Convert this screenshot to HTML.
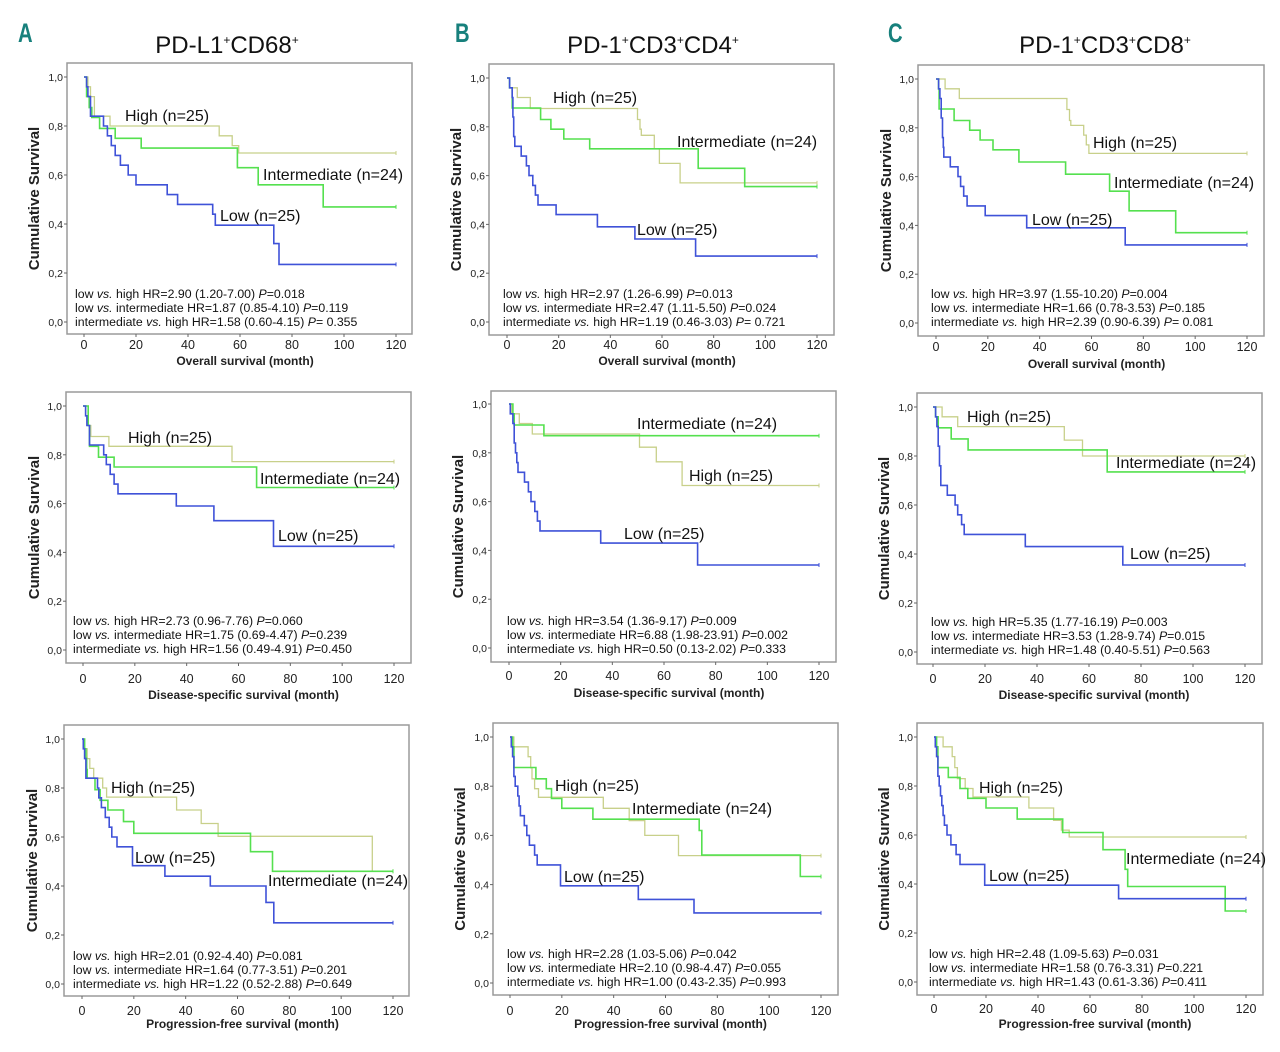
<!DOCTYPE html>
<html><head><meta charset="utf-8"><style>
html,body{margin:0;padding:0;background:#fff;}
svg{display:block;}
text{font-family:"Liberation Sans",Arial,sans-serif;}
</style></head><body>
<svg id="s" width="1280" height="1052" viewBox="0 0 1280 1052" xmlns="http://www.w3.org/2000/svg"></svg>
<script>
const P=[
{f:[67,63,412,334],x0:84,x1:396,y1:77,y0:322,yl:33,xt:"Overall survival (month)",xty:361,tly:344,sx:75,sy:298,
 st:[["2.90 (1.20-7.00)","=0.018"],["1.87 (0.85-4.10)","=0.119"],["1.58 (0.60-4.15)","= 0.355"]],
 H:[[1.5,.96],[2.5,.92],[4,.84],[10,.80],[52,.76],[57,.72],[59.5,.69]],
 I:[[1,.92],[2,.875],[3,.835],[6,.79],[12,.75],[22,.71],[59,.63],[67,.56],[92,.47]],
 L:[[1,.96],[1.5,.92],[2.5,.84],[7.5,.80],[9,.76],[10.5,.72],[12,.68],[14,.64],[17,.60],[20,.56],[32,.52],[36,.48],[49.5,.44],[50.5,.395],[73,.32],[75,.235]],
 lab:[["High (n=25)",125,121],["Intermediate (n=24)",263,180],["Low (n=25)",220,221]]},
{f:[489,64,834,335],x0:507,x1:817,y1:78,y0:322,yl:455,xt:"Overall survival (month)",xty:361,tly:344,sx:503,sy:298,
 st:[["2.97 (1.26-6.99)","=0.013"],["2.47 (1.11-5.50)","=0.024"],["1.19 (0.46-3.03)","= 0.721"]],
 H:[[1,.96],[4,.92],[9,.875],[50.5,.83],[51.5,.79],[52,.765],[57,.71],[59,.65],[67,.57]],
 I:[[1,.96],[2,.877],[13,.83],[17,.79],[22,.75],[32,.71],[74,.63],[92,.555]],
 L:[[1,.96],[2,.92],[2.3,.84],[2.6,.76],[3,.72],[5.5,.68],[7.5,.64],[8.5,.60],[10,.56],[11,.52],[12,.48],[19,.44],[35,.39],[49.5,.34],[73,.27]],
 lab:[["High (n=25)",553,103],["Intermediate (n=24)",677,147],["Low (n=25)",637,235]]},
{f:[918,65,1264,336],x0:936,x1:1247,y1:79,y0:323,yl:885,xt:"Overall survival (month)",xty:364,tly:346,sx:931,sy:298,
 st:[["3.97 (1.55-10.20)","=0.004"],["1.66 (0.78-3.53)","=0.185"],["2.39 (0.90-6.39)","= 0.081"]],
 H:[[3.5,.96],[9,.92],[50.5,.875],[51.5,.83],[52,.81],[57,.77],[58,.73],[59,.695]],
 I:[[1,.96],[1.2,.877],[7,.83],[13,.79],[17,.75],[22,.71],[32,.66],[50,.61],[67,.54],[74.5,.46],[92.5,.37]],
 L:[[1,.96],[1.5,.92],[2,.84],[2.5,.76],[2.8,.72],[3,.68],[5.5,.64],[8.5,.60],[9.5,.56],[10.7,.52],[12,.48],[19,.44],[35,.39],[73,.32]],
 lab:[["High (n=25)",1093,148],["Intermediate (n=24)",1114,188],["Low (n=25)",1032,225]]},
{f:[66,392,411,663],x0:83,x1:394,y1:406,y0:650,yl:33,xt:"Disease-specific survival (month)",xty:695,tly:678,sx:73,sy:625,
 st:[["2.73 (0.96-7.76)","=0.060"],["1.75 (0.69-4.47)","=0.239"],["1.56 (0.49-4.91)","=0.450"]],
 H:[[2,.92],[3,.875],[10,.835],[57.5,.772]],
 I:[[2,.92],[2.5,.835],[6,.79],[12,.75],[67,.666]],
 L:[[1,.96],[1.5,.92],[2.5,.84],[8,.80],[9,.76],[10.5,.72],[12,.68],[13.5,.64],[36,.59],[50.5,.53],[73.5,.425]],
 lab:[["High (n=25)",128,443],["Intermediate (n=24)",260,484],["Low (n=25)",278,541]]},
{f:[491,391,836,662],x0:509,x1:819,y1:404,y0:648,yl:457,xt:"Disease-specific survival (month)",xty:693,tly:675,sx:507,sy:625,
 st:[["3.54 (1.36-9.17)","=0.009"],["6.88 (1.98-23.91)","=0.002"],["0.50 (0.13-2.02)","=0.333"]],
 H:[[1,.96],[4,.92],[9,.877],[50.5,.823],[57,.763],[67,.666]],
 I:[[1.5,.96],[2,.914],[13.5,.87]],
 L:[[0.5,.96],[1.5,.92],[2,.84],[2.5,.80],[3,.76],[3.5,.72],[6,.68],[7.5,.64],[8.5,.60],[10,.56],[11,.52],[12,.48],[35.5,.43],[73,.34]],
 lab:[["Intermediate (n=24)",637,429],["High (n=25)",689,481],["Low (n=25)",624,539]]},
{f:[917,393,1262,664],x0:933,x1:1245,y1:407,y0:652,yl:883,xt:"Disease-specific survival (month)",xty:695,tly:678,sx:931,sy:626,
 st:[["5.35 (1.77-16.19)","=0.003"],["3.53 (1.28-9.74)","=0.015"],["1.48 (0.40-5.51)","=0.563"]],
 H:[[3.5,.96],[9.5,.92],[50.5,.865],[57.5,.80]],
 I:[[1,.96],[2,.915],[7,.87],[13.5,.825],[67,.735]],
 L:[[1,.96],[1.5,.92],[2,.84],[2.5,.76],[3,.68],[5.5,.64],[8.5,.60],[9.5,.56],[11,.52],[12,.48],[35.5,.43],[73,.355]],
 lab:[["High (n=25)",967,422],["Intermediate (n=24)",1116,468],["Low (n=25)",1130,559]]},
{f:[64,725,409,996],x0:82,x1:393,y1:739,y0:984,yl:31,xt:"Progression-free survival (month)",xty:1024,tly:1010,sx:73,sy:960,
 st:[["2.01 (0.92-4.40)","=0.081"],["1.64 (0.77-3.51)","=0.201"],["1.22 (0.52-2.88)","=0.649"]],
 H:[[1,.96],[2,.92],[3,.88],[4.5,.84],[8,.80],[9.5,.763],[36.5,.71],[46,.655],[52.5,.603],[112,.46]],
 I:[[1,.96],[1.5,.92],[1.8,.875],[2,.84],[5,.793],[7,.75],[10,.71],[16,.663],[20,.615],[65,.54],[73.5,.46]],
 L:[[0.5,.96],[1,.92],[1.5,.84],[6,.80],[6.5,.76],[7.5,.72],[9,.68],[10.5,.64],[11.5,.60],[13.5,.56],[19.5,.483],[32,.44],[49.5,.40],[71,.333],[74,.25]],
 lab:[["High (n=25)",111,793],["Low (n=25)",135,863],["Intermediate (n=24)",268,886]]},
{f:[493,723,838,995],x0:510,x1:821,y1:737,y0:983,yl:459,xt:"Progression-free survival (month)",xty:1024,tly:1010,sx:507,sy:958,
 st:[["2.28 (1.03-5.06)","=0.042"],["2.10 (0.98-4.47)","=0.055"],["1.00 (0.43-2.35)","=0.993"]],
 H:[[1.5,.96],[7,.92],[8,.875],[8.5,.83],[9.5,.79],[11,.755],[36,.71],[46,.66],[52,.60],[65,.518]],
 I:[[1,.96],[1.5,.876],[10,.83],[14,.79],[16,.75],[20,.71],[32,.666],[73,.62],[74,.52],[112,.433]],
 L:[[0.5,.96],[1,.92],[1.5,.84],[2,.80],[3,.76],[3.5,.72],[4,.68],[5.5,.64],[6.5,.60],[7.5,.56],[9.5,.52],[10.5,.48],[19.5,.395],[49.5,.34],[71,.285]],
 lab:[["High (n=25)",555,791],["Intermediate (n=24)",632,814],["Low (n=25)",564,882]]},
{f:[917,723,1263,995],x0:934,x1:1246,y1:737,y0:982,yl:883,xt:"Progression-free survival (month)",xty:1024,tly:1008,sx:929,sy:958,
 st:[["2.48 (1.09-5.63)","=0.031"],["1.58 (0.76-3.31)","=0.221"],["1.43 (0.61-3.36)","=0.411"]],
 H:[[3.5,.96],[7,.92],[8,.875],[9,.83],[12,.79],[15,.755],[36.5,.71],[46,.66],[49,.62],[52,.592]],
 I:[[1,.96],[1.5,.875],[5.5,.835],[10,.79],[13,.75],[20,.71],[32,.665],[49.5,.61],[65,.54],[73.5,.46],[74.5,.39],[112,.29]],
 L:[[0.5,.96],[1,.92],[1.5,.84],[2,.80],[2.5,.76],[3,.72],[3.5,.68],[4,.64],[5,.60],[6.5,.56],[8.5,.52],[10,.48],[19.5,.395],[71,.34]],
 lab:[["High (n=25)",979,793],["Intermediate (n=24)",1126,864],["Low (n=25)",989,881]]}
];
const C={H:"#c8d08a",I:"#55e04f",L:"#3f52d8"};
let o="";
const pre=["low <tspan font-style='italic'>vs.</tspan> high HR=","low <tspan font-style='italic'>vs.</tspan> intermediate HR=","intermediate <tspan font-style='italic'>vs.</tspan> high HR="];
P.forEach(p=>{
 const [a,b,c,d]=p.f;
 const X=t=>p.x0+(p.x1-p.x0)*t/120, Y=s=>p.y0-(p.y0-p.y1)*s;
 o+=`<rect x="${a}" y="${b}" width="${c-a}" height="${d-b}" fill="#fff" stroke="#9a9a9a" stroke-width="1.5"/>`;
 for(let i=0;i<=5;i++){const s=i/5,y=Y(s);
  o+=`<line x1="${a-3}" y1="${y}" x2="${a}" y2="${y}" stroke="#666"/>`;
  o+=`<text x="${a-4}" y="${y+4}" font-size="10.5" text-anchor="end" fill="#222">${(s).toFixed(1).replace('.',',')}</text>`;}
 for(let t=0;t<=120;t+=20){const x=X(t);
  o+=`<line x1="${x}" y1="${d}" x2="${x}" y2="${d+3}" stroke="#666"/>`;
  o+=`<text x="${x}" y="${p.tly+5}" font-size="12.5" text-anchor="middle" fill="#222">${t}</text>`;}
 o+=`<text x="${(p.x0+p.x1)/2+5}" y="${p.xty+4}" font-size="12" font-weight="bold" text-anchor="middle" fill="#222">${p.xt}</text>`;
 const cy=(b+d)/2;
 o+=`<text transform="translate(${p.yl+6},${cy}) rotate(-90)" font-size="15" font-weight="bold" text-anchor="middle" fill="#222">Cumulative Survival</text>`;
 ["H","I","L"].forEach(k=>{
  let s=1,pts=`M${X(0)},${Y(1)}`;
  p[k].forEach(([t,v])=>{pts+=` H${X(t).toFixed(1)} V${Y(v).toFixed(1)}`;s=v;});
  pts+=` H${X(120)}`;
  o+=`<path d="${pts}" fill="none" stroke="${C[k]}" stroke-width="${k=='H'?1.3:1.6}"/>`;
  o+=`<line x1="${X(120)}" y1="${Y(s)-2}" x2="${X(120)}" y2="${Y(s)+2}" stroke="${C[k]}"/>`;
 });
 p.lab.forEach(([t,x,y])=>{o+=`<text x="${x}" y="${y}" font-size="16" fill="#111">${t}</text>`;});
 p.st.forEach((s,i)=>{o+=`<text x="${p.sx}" y="${p.sy+i*14}" font-size="12.3" fill="#111">${pre[i]}${s[0]} <tspan font-style="italic">P</tspan>${s[1]}</text>`;});
});
const T=[["A",18,227,"PD-L1","CD68"],["B",455,653,"PD-1","CD3","CD4"],["C",888,1105,"PD-1","CD3","CD8"]];
T.forEach(t=>{
 o+=`<text x="${t[1]}" y="42" font-size="27" font-weight="bold" fill="#17807c" transform="translate(${t[1]},0) scale(0.75,1) translate(${-t[1]},0)">${t[0]}</text>`;
 let s="";for(let i=3;i<t.length;i++){s+=`<tspan dy="${i==3?0:9}">${t[i]}</tspan><tspan dy="-9" font-size="12">+</tspan>`;}
 o+=`<text x="${t[2]}" y="53" font-size="24" text-anchor="middle" fill="#111">${s}</text>`;
});
document.getElementById("s").innerHTML=o;
</script>
</body></html>
